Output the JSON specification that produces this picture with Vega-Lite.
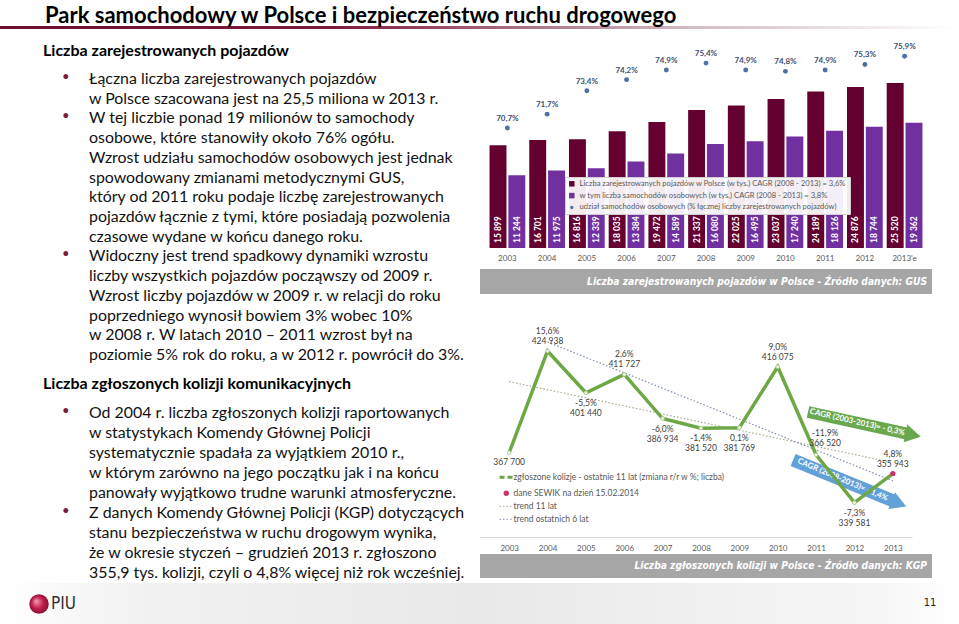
{
  "$schema": "https://vega.github.io/schema/vega-lite/v6.json",
  "padding": {"top": 4, "left": 0, "right": 0, "bottom": 0},
  "background": "white",
  "title": {"text": "Park samochodowy w Polsce i bezpieczeństwo ruchu drogowego", "anchor": "start", "dx": 45, "fontSize": 22, "font": "Lato", "fontWeight": "bold", "color": "#000000", "offset": -6},
  "datasets": {
    "vehicles": [
      {"year": "2003", "series": "ogolem", "thousands": 15899}, {"year": "2003", "series": "osobowe", "thousands": 11244},
      {"year": "2004", "series": "ogolem", "thousands": 16701}, {"year": "2004", "series": "osobowe", "thousands": 11975},
      {"year": "2005", "series": "ogolem", "thousands": 16816}, {"year": "2005", "series": "osobowe", "thousands": 12339},
      {"year": "2006", "series": "ogolem", "thousands": 18035}, {"year": "2006", "series": "osobowe", "thousands": 13384},
      {"year": "2007", "series": "ogolem", "thousands": 19472}, {"year": "2007", "series": "osobowe", "thousands": 14589},
      {"year": "2008", "series": "ogolem", "thousands": 21337}, {"year": "2008", "series": "osobowe", "thousands": 16080},
      {"year": "2009", "series": "ogolem", "thousands": 22025}, {"year": "2009", "series": "osobowe", "thousands": 16495},
      {"year": "2010", "series": "ogolem", "thousands": 23037}, {"year": "2010", "series": "osobowe", "thousands": 17240},
      {"year": "2011", "series": "ogolem", "thousands": 24189}, {"year": "2011", "series": "osobowe", "thousands": 18126},
      {"year": "2012", "series": "ogolem", "thousands": 24876}, {"year": "2012", "series": "osobowe", "thousands": 18744},
      {"year": "2013'e", "series": "ogolem", "thousands": 25520}, {"year": "2013'e", "series": "osobowe", "thousands": 19362}
    ],
    "shares": [
      {"year": "2003", "share": 0.707}, {"year": "2004", "share": 0.717}, {"year": "2005", "share": 0.734},
      {"year": "2006", "share": 0.742}, {"year": "2007", "share": 0.749}, {"year": "2008", "share": 0.754},
      {"year": "2009", "share": 0.749}, {"year": "2010", "share": 0.748}, {"year": "2011", "share": 0.749},
      {"year": "2012", "share": 0.753}, {"year": "2013'e", "share": 0.759}
    ],
    "collisions": [
      {"year": 2003, "count": 367700, "change": null},
      {"year": 2004, "count": 424938, "change": 0.156},
      {"year": 2005, "count": 401440, "change": -0.055},
      {"year": 2006, "count": 411727, "change": 0.026},
      {"year": 2007, "count": 386934, "change": -0.060},
      {"year": 2008, "count": 381520, "change": -0.014},
      {"year": 2009, "count": 381769, "change": 0.001},
      {"year": 2010, "count": 416075, "change": 0.090},
      {"year": 2011, "count": 366520, "change": -0.119},
      {"year": 2012, "count": 339581, "change": -0.073},
      {"year": 2013, "count": 355943, "change": 0.048}
    ],
    "arrows": [
      {"period": "2003-2013", "label": "CAGR (2003-2013)= - 0,3%", "from_year": 2010.79, "from_count": 390612, "to_year": 2013.4, "to_count": 378300, "head_year": 2013.53, "head_count": 377670, "mid_year": 2012.07, "mid_count": 384704},
      {"period": "2008-2013", "label": "CAGR (2008-2013)= - 1,4%", "from_year": 2010.4, "from_count": 363602, "to_year": 2013.02, "to_count": 340500, "head_year": 2013.16, "head_count": 339124, "mid_year": 2011.69, "mid_count": 352348}
    ]
  },
  "vconcat": [
    {
      "width": 959, "height": 3,
      "view": {"stroke": null, "fill": {"gradient": "linear", "x1": 0, "y1": 0, "x2": 1, "y2": 0, "stops": [{"offset": 0, "color": "#6b0d2c"}, {"offset": 0.35, "color": "#7d1d3d"}, {"offset": 0.72, "color": "#d2bcc3"}, {"offset": 1, "color": "#ffffff"}]}},
      "data": {"values": [{"k": 1}]},
      "mark": {"type": "text", "text": ""},
      "encoding": {}
    },
    {
      "hconcat": [
        {
          "vconcat": [
            {
              "width": 470, "height": 36,
              "data": {"values": [{"heading": "Liczba zarejestrowanych pojazdów"}]},
              "mark": {"type": "text", "align": "left", "baseline": "middle", "fontSize": 16, "fontWeight": "bold", "font": "Lato", "color": "#000000"},
              "encoding": {"x": {"value": 43}, "y": {"field": "heading", "type": "nominal", "axis": null}, "text": {"field": "heading"}}
            },
            {
              "width": 470, "height": 296,
              "data": {"values": [
                {"b": "•", "line": "Łączna liczba zarejestrowanych pojazdów"},
                {"b": "", "line": "w Polsce szacowana jest na 25,5 miliona w 2013 r."},
                {"b": "•", "line": "W tej liczbie ponad 19 milionów to samochody"},
                {"b": "", "line": "osobowe, które stanowiły około 76% ogółu."},
                {"b": "", "line": "Wzrost udziału samochodów osobowych jest jednak"},
                {"b": "", "line": "spowodowany zmianami metodycznymi GUS,"},
                {"b": "", "line": "który od 2011 roku podaje liczbę zarejestrowanych"},
                {"b": "", "line": "pojazdów  łącznie z tymi, które posiadają pozwolenia"},
                {"b": "", "line": "czasowe wydane w końcu danego roku."},
                {"b": "•", "line": "Widoczny jest trend spadkowy dynamiki wzrostu"},
                {"b": "", "line": "liczby wszystkich pojazdów począwszy od 2009 r."},
                {"b": "", "line": "Wzrost liczby pojazdów w 2009 r. w relacji do roku"},
                {"b": "", "line": "poprzedniego wynosił bowiem 3% wobec 10%"},
                {"b": "", "line": "w 2008 r. W latach 2010 – 2011 wzrost był na"},
                {"b": "", "line": "poziomie 5% rok do roku, a w 2012 r. powrócił do 3%."}
              ]},
              "encoding": {"y": {"field": "line", "type": "nominal", "sort": null, "axis": null}},
              "layer": [
                {"mark": {"type": "text", "align": "left", "baseline": "middle", "fontSize": 15.9, "font": "Lato", "color": "#111111"}, "encoding": {"x": {"value": 89}, "text": {"field": "line"}}},
                {"mark": {"type": "text", "align": "left", "baseline": "middle", "fontSize": 13, "font": "Lato", "color": "#7b1c3a", "dy": -2}, "encoding": {"x": {"value": 62}, "text": {"field": "b"}}}
              ]
            },
            {
              "width": 470, "height": 38,
              "data": {"values": [{"heading": "Liczba zgłoszonych kolizji komunikacyjnych"}]},
              "mark": {"type": "text", "align": "left", "baseline": "middle", "fontSize": 16, "fontWeight": "bold", "font": "Lato", "color": "#000000"},
              "encoding": {"x": {"value": 43}, "y": {"field": "heading", "type": "nominal", "axis": null}, "text": {"field": "heading"}}
            },
            {
              "width": 470, "height": 180,
              "data": {"values": [
                {"b": "•", "line": "Od 2004 r. liczba zgłoszonych kolizji raportowanych"},
                {"b": "", "line": "w statystykach Komendy Głównej Policji"},
                {"b": "", "line": "systematycznie spadała za wyjątkiem 2010 r.,"},
                {"b": "", "line": "w którym zarówno na jego początku jak i na końcu"},
                {"b": "", "line": "panowały wyjątkowo trudne warunki atmosferyczne."},
                {"b": "•", "line": "Z danych Komendy Głównej Policji (KGP) dotyczących"},
                {"b": "", "line": "stanu bezpieczeństwa w ruchu drogowym wynika,"},
                {"b": "", "line": "że w okresie styczeń – grudzień 2013 r. zgłoszono"},
                {"b": "", "line": "355,9 tys. kolizji, czyli o 4,8% więcej niż rok wcześniej."}
              ]},
              "encoding": {"y": {"field": "line", "type": "nominal", "sort": null, "axis": null}},
              "layer": [
                {"mark": {"type": "text", "align": "left", "baseline": "middle", "fontSize": 15.9, "font": "Lato", "color": "#111111"}, "encoding": {"x": {"value": 89}, "text": {"field": "line"}}},
                {"mark": {"type": "text", "align": "left", "baseline": "middle", "fontSize": 13, "font": "Lato", "color": "#7b1c3a", "dy": -2}, "encoding": {"x": {"value": 62}, "text": {"field": "b"}}}
              ]
            }
          ],
          "spacing": 0
        },
        {
          "vconcat": [
            {
              "width": 452, "height": 215,
              "layer": [
                {
                  "data": {"name": "vehicles"},
                  "encoding": {
                    "x": {"field": "year", "type": "ordinal", "sort": null, "scale": {"paddingInner": 0.1, "paddingOuter": 0.24}, "axis": {"title": null, "domain": false, "ticks": false, "labelAngle": 0, "labelPadding": 6, "labelFontSize": 8, "labelColor": "#595959", "labelFont": "Lato"}},
                    "xOffset": {"field": "series", "type": "nominal", "scale": {"domain": ["ogolem", "osobowe"], "paddingInner": 0.1}},
                    "y": {"field": "thousands", "type": "quantitative", "scale": {"domain": [0, 33230], "nice": false}, "axis": null}
                  },
                  "layer": [
                    {
                      "mark": {"type": "bar"},
                      "encoding": {
                        "color": {
                          "field": "series", "type": "nominal",
                          "scale": {"domain": ["ogolem", "osobowe", "udzial"], "range": ["#64002f", "#7030a0", "#4f6fa5"]},
                          "legend": {
                            "orient": "none", "legendX": 85, "legendY": 144, "title": null, "direction": "vertical",
                            "fillColor": "rgba(255,255,255,0.92)", "strokeColor": "#d0d0d0", "padding": 3,
                            "labelFont": "Lato", "labelFontSize": 7.6, "labelColor": "#595959", "labelLimit": 400, "labelOffset": 4,
                            "symbolSize": 30, "symbolType": "square", "rowPadding": 2.8,
                            "labelExpr": "datum.value == 'ogolem' ? 'Liczba zarejestrowanych pojazdów w Polsce (w tys.) CAGR (2008 - 2013) = 3,6%' : datum.value == 'osobowe' ? ' w tym liczba samochodów osobowych (w tys.) CAGR (2008 - 2013) = 3,8%' : 'udział samochodów osobowych (% łącznej liczby zarejestrowanych pojazdów)'",
                            "encode": {"symbols": {"update": {"shape": {"signal": "datum.value == 'udzial' ? 'circle' : 'square'"}, "size": {"signal": "datum.value == 'udzial' ? 12 : 30"}}}}
                          }
                        }
                      }
                    },
                    {
                      "mark": {"type": "text", "angle": 270, "align": "left", "baseline": "middle", "dx": 5, "fontSize": 8.5, "fontWeight": "bold", "font": "Lato", "color": "white"},
                      "encoding": {"y": {"datum": 0}, "text": {"field": "thousands", "type": "quantitative", "format": ","}}
                    }
                  ]
                },
                {
                  "data": {"name": "shares"},
                  "encoding": {
                    "x": {"field": "year", "type": "ordinal", "sort": null},
                    "y": {"field": "share", "type": "quantitative", "scale": {"domain": [0.62, 0.7758], "nice": false, "zero": false}, "axis": null}
                  },
                  "layer": [
                    {"mark": {"type": "point", "filled": true, "size": 24, "opacity": 1}, "encoding": {"color": {"datum": "udzial"}}},
                    {"mark": {"type": "text", "dy": -9, "fontSize": 8, "fontWeight": "bold", "font": "Lato", "color": "#3d4f75"}, "encoding": {"text": {"field": "share", "type": "quantitative", "format": ".1%"}}}
                  ]
                }
              ],
              "resolve": {"scale": {"y": "independent"}}
            },
            {
              "vconcat": [
                {
                  "width": 452, "height": 25,
                  "view": {"fill": "#a6a6a6", "stroke": null},
                  "data": {"values": [{"caption": "Liczba zarejestrowanych pojazdów w Polsce - Źródło danych: GUS"}]},
                  "mark": {"type": "text", "align": "right", "baseline": "middle", "dx": -5, "font": "DejaVu Sans Condensed, Lato", "fontStyle": "italic", "fontWeight": "bold", "fontSize": 10.2, "color": "white"},
                  "encoding": {"x": {"value": "width"}, "y": {"field": "caption", "type": "nominal", "axis": null}, "text": {"field": "caption"}}
                },
                {
                  "vconcat": [
                    {
                      "width": 432, "height": 231,
                      "data": {"name": "collisions"},
                      "encoding": {
                        "x": {"field": "year", "type": "quantitative", "title": null, "scale": {"domain": [2002.24, 2013.5], "nice": false, "zero": false}, "axis": {"title": null, "values": [2003, 2004, 2005, 2006, 2007, 2008, 2009, 2010, 2011, 2012, 2013], "format": "d", "grid": false, "ticks": false, "domainColor": "#d9d9d9", "labelColor": "#595959", "labelFontSize": 8, "labelFont": "Lato", "labelPadding": 7, "labelFlush": false}},
                        "y": {"field": "count", "type": "quantitative", "title": null, "scale": {"domain": [320270, 450260], "nice": false, "zero": false}, "axis": null}
                      },
                      "layer": [
                        {
                          "transform": [{"regression": "count", "on": "year", "extent": [2003, 2013]}],
                          "mark": {"type": "line", "strokeDash": [1.5, 2], "strokeWidth": 1.2},
                          "encoding": {"color": {"datum": "trend 11 lat"}}
                        },
                        {
                          "transform": [{"filter": "datum.year >= 2008"}, {"regression": "count", "on": "year", "extent": [2004, 2013]}],
                          "mark": {"type": "line", "strokeDash": [1.5, 2], "strokeWidth": 1.2},
                          "encoding": {"color": {"datum": "trend ostatnich 6 lat"}}
                        },
                        {
                          "data": {"name": "arrows"},
                          "transform": [{"filter": "datum.period == '2008-2013'"}],
                          "layer": [
                            {"mark": {"type": "rule", "strokeWidth": 13, "strokeCap": "butt", "color": "#62a0d8"}, "encoding": {"x": {"field": "from_year", "type": "quantitative", "title": null}, "y": {"field": "from_count", "type": "quantitative", "title": null}, "x2": {"field": "to_year"}, "y2": {"field": "to_count"}}},
                            {"mark": {"type": "point", "shape": "triangle-right", "filled": true, "size": 330, "angle": 22, "opacity": 1, "color": "#62a0d8"}, "encoding": {"x": {"field": "head_year", "type": "quantitative", "title": null}, "y": {"field": "head_count", "type": "quantitative", "title": null}}},
                            {"mark": {"type": "text", "angle": 23, "fontSize": 8, "fontWeight": "bold", "font": "Lato", "color": "white", "baseline": "middle"}, "encoding": {"x": {"field": "mid_year", "type": "quantitative", "title": null}, "y": {"field": "mid_count", "type": "quantitative", "title": null}, "text": {"field": "label"}}}
                          ]
                        },
                        {
                          "data": {"name": "arrows"},
                          "transform": [{"filter": "datum.period == '2003-2013'"}],
                          "layer": [
                            {"mark": {"type": "rule", "strokeWidth": 12, "strokeCap": "butt", "color": "#6aa84f"}, "encoding": {"x": {"field": "from_year", "type": "quantitative", "title": null}, "y": {"field": "from_count", "type": "quantitative", "title": null}, "x2": {"field": "to_year"}, "y2": {"field": "to_count"}}},
                            {"mark": {"type": "point", "shape": "triangle-right", "filled": true, "size": 330, "angle": 12, "opacity": 1, "color": "#6aa84f"}, "encoding": {"x": {"field": "head_year", "type": "quantitative", "title": null}, "y": {"field": "head_count", "type": "quantitative", "title": null}}},
                            {"mark": {"type": "text", "angle": 13, "fontSize": 8, "fontWeight": "bold", "font": "Lato", "color": "white", "baseline": "middle"}, "encoding": {"x": {"field": "mid_year", "type": "quantitative", "title": null}, "y": {"field": "mid_count", "type": "quantitative", "title": null}, "text": {"field": "label"}}}
                          ]
                        },
                        {
                          "mark": {"type": "line", "strokeWidth": 3.5, "strokeJoin": "miter"},
                          "encoding": {
                            "color": {
                              "datum": "zgłoszone kolizje - ostatnie 11 lat (zmiana r/r w %; liczba)",
                              "scale": {"domain": ["zgłoszone kolizje - ostatnie 11 lat (zmiana r/r w %; liczba)", "dane SEWIK na dzień 15.02.2014", "trend 11 lat", "trend ostatnich 6 lat"], "range": ["#6ea845", "#c8336e", "#a3ad8c", "#7f8db5"]},
                              "legend": {
                                "orient": "none", "legendX": 22, "legendY": 167, "title": null, "direction": "vertical",
                                "labelFont": "Lato", "labelFontSize": 8.5, "labelColor": "#595959", "labelLimit": 400, "labelOffset": 3,
                                "symbolType": "stroke", "symbolSize": 180, "rowPadding": 4,
                                "encode": {"symbols": {"update": {
                                  "shape": {"signal": "datum.value == 'dane SEWIK na dzień 15.02.2014' ? 'circle' : 'stroke'"},
                                  "size": {"signal": "datum.value == 'dane SEWIK na dzień 15.02.2014' ? 18 : 180"},
                                  "strokeDash": {"signal": "datum.value == 'trend 11 lat' || datum.value == 'trend ostatnich 6 lat' ? [1.5, 2] : (datum.value == 'dane SEWIK na dzień 15.02.2014' ? [] : [5, 3])"},
                                  "strokeWidth": {"signal": "datum.value == 'zgłoszone kolizje - ostatnie 11 lat (zmiana r/r w %; liczba)' ? 3 : 1.2"},
                                  "fill": {"signal": "datum.value == 'dane SEWIK na dzień 15.02.2014' ? '#c8336e' : 'transparent'"}
                                }}}
                              }
                            }
                          }
                        },
                        {"mark": {"type": "point", "filled": true, "size": 14, "opacity": 1, "color": "#eef5e6", "stroke": "#a6c98a", "strokeWidth": 0.8}},
                        {"transform": [{"filter": "datum.year == 2013"}], "mark": {"type": "point", "filled": true, "size": 28, "opacity": 1}, "encoding": {"color": {"datum": "dane SEWIK na dzień 15.02.2014"}}},
                        {"transform": [{"filter": {"field": "year", "oneOf": [2004, 2006, 2010, 2013]}}], "mark": {"type": "text", "dy": -20, "fontSize": 8.5, "font": "Lato", "color": "#404040"}, "encoding": {"text": {"field": "change", "type": "quantitative", "format": ".1%"}}},
                        {"transform": [{"filter": {"field": "year", "oneOf": [2004, 2006, 2010, 2013]}}], "mark": {"type": "text", "dy": -10, "fontSize": 8.5, "font": "Lato", "color": "#404040"}, "encoding": {"text": {"field": "count", "type": "quantitative", "format": ","}}},
                        {"transform": [{"filter": "datum.year == 2011"}], "mark": {"type": "text", "dx": 9, "dy": -22, "fontSize": 8.5, "font": "Lato", "color": "#404040"}, "encoding": {"text": {"field": "change", "type": "quantitative", "format": ".1%"}}},
                        {"transform": [{"filter": "datum.year == 2011"}], "mark": {"type": "text", "dx": 9, "dy": -12, "fontSize": 8.5, "font": "Lato", "color": "#404040"}, "encoding": {"text": {"field": "count", "type": "quantitative", "format": ","}}},
                        {"transform": [{"filter": {"field": "year", "oneOf": [2005, 2007, 2008, 2009, 2012]}}], "mark": {"type": "text", "dy": 10, "fontSize": 8.5, "font": "Lato", "color": "#404040"}, "encoding": {"text": {"field": "change", "type": "quantitative", "format": ".1%"}}},
                        {"transform": [{"filter": {"field": "year", "oneOf": [2005, 2007, 2008, 2009, 2012]}}], "mark": {"type": "text", "dy": 20, "fontSize": 8.5, "font": "Lato", "color": "#404040"}, "encoding": {"text": {"field": "count", "type": "quantitative", "format": ","}}},
                        {"transform": [{"filter": "datum.year == 2003"}], "mark": {"type": "text", "dy": 9, "fontSize": 8.5, "font": "Lato", "color": "#404040"}, "encoding": {"text": {"field": "count", "type": "quantitative", "format": ","}}}
                      ]
                    },
                    {
                      "width": 452, "height": 24,
                      "view": {"fill": "#a6a6a6", "stroke": null},
                      "data": {"values": [{"caption": "Liczba zgłoszonych kolizji w Polsce - Źródło danych: KGP"}]},
                      "mark": {"type": "text", "align": "right", "baseline": "middle", "dx": -5, "font": "DejaVu Sans Condensed, Lato", "fontStyle": "italic", "fontWeight": "bold", "fontSize": 10.2, "color": "white"},
                      "encoding": {"x": {"value": "width"}, "y": {"field": "caption", "type": "nominal", "axis": null}, "text": {"field": "caption"}}
                    }
                  ],
                  "spacing": 2,
                  "resolve": {"scale": {"color": "independent"}, "legend": {"color": "independent"}}
                }
              ],
              "spacing": 12,
              "resolve": {"scale": {"color": "independent"}, "legend": {"color": "independent"}}
            }
          ],
          "spacing": 7,
          "resolve": {"scale": {"color": "independent"}, "legend": {"color": "independent"}}
        }
      ],
      "spacing": 10,
      "resolve": {"scale": {"color": "independent"}, "legend": {"color": "independent"}}
    },
    {
      "width": 959, "height": 44,
      "view": {"stroke": null, "fill": {"gradient": "linear", "x1": 0, "y1": 0, "x2": 1, "y2": 0, "stops": [{"offset": 0, "color": "#ffffff"}, {"offset": 0.15, "color": "#f1f1f1"}, {"offset": 0.5, "color": "#e9e9e9"}, {"offset": 0.9, "color": "#f5f5f5"}, {"offset": 1, "color": "#ffffff"}]}},
      "data": {"values": [{"brand": "PIU", "page": "11"}]},
      "layer": [
        {"mark": {"type": "point", "shape": "circle", "filled": true, "size": 380, "opacity": 1, "color": {"gradient": "radial", "x1": 0.35, "y1": 0.35, "r1": 0, "x2": 0.5, "y2": 0.5, "r2": 0.6, "stops": [{"offset": 0, "color": "#f3a0b8"}, {"offset": 0.5, "color": "#c2204e"}, {"offset": 1, "color": "#7a0a2c"}]}}, "encoding": {"x": {"value": 39}, "y": {"value": 21}}},
        {"mark": {"type": "text", "align": "left", "baseline": "middle", "font": "DejaVu Sans Condensed, Lato", "fontSize": 17, "color": "#333333"}, "encoding": {"x": {"value": 51}, "y": {"value": 21}, "text": {"field": "brand"}}},
        {"mark": {"type": "text", "align": "center", "baseline": "middle", "font": "DejaVu Sans Condensed, Lato", "fontSize": 11, "color": "#222222"}, "encoding": {"x": {"value": 930}, "y": {"value": 20}, "text": {"field": "page"}}}
      ]
    }
  ],
  "spacing": 0,
  "resolve": {"scale": {"color": "independent"}, "legend": {"color": "independent"}},
  "config": {
    "view": {"stroke": null},
    "font": "Lato",
    "locale": {"number": {"decimal": ",", "thousands": " ", "grouping": [3], "currency": ["", " zł"], "minus": "-", "percent": "%"}}
  }
}
